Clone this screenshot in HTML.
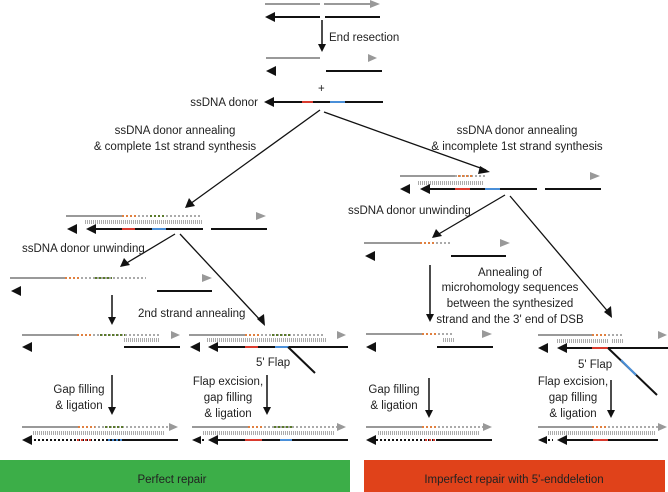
<!DOCTYPE html>
<html><head><meta charset="utf-8"><style>
html,body{margin:0;padding:0;background:#fff;}
svg{display:block;}
text{font-family:"Liberation Sans",Arial,sans-serif;font-size:11.5px;fill:#222;}
</style></head><body>
<svg width="668" height="492" viewBox="0 0 668 492" xmlns="http://www.w3.org/2000/svg">
<g stroke-width="2" fill="none">
<line x1="265" y1="4" x2="320" y2="4" stroke="#999"/>
<line x1="324" y1="4" x2="372" y2="4" stroke="#999"/>
<line x1="270" y1="17" x2="320" y2="17" stroke="#111"/>
<line x1="325" y1="17" x2="380" y2="17" stroke="#111"/>
<line x1="322" y1="20" x2="322" y2="46" stroke="#111" stroke-width="1.5"/>
<line x1="266" y1="58" x2="320" y2="58" stroke="#999"/>
<line x1="326" y1="71" x2="382" y2="71" stroke="#111"/>
<line x1="270" y1="102" x2="383" y2="102" stroke="#111"/>
<line x1="302" y1="102" x2="313" y2="102" stroke="#d83a2e"/>
<line x1="330" y1="102" x2="345" y2="102" stroke="#4a8fd8"/>
<line x1="320" y1="110" x2="190" y2="204" stroke="#111" stroke-width="1.3"/>
<line x1="324" y1="112" x2="486" y2="170" stroke="#111" stroke-width="1.3"/>
<line x1="66" y1="216" x2="122" y2="216" stroke="#999"/>
<line x1="122" y1="216" x2="200" y2="216" stroke="#aaa" stroke-dasharray="2,2"/>
<line x1="122" y1="216" x2="138" y2="216" stroke="#e08040" stroke-dasharray="2,2"/>
<line x1="150" y1="216" x2="165" y2="216" stroke="#5a7a2a" stroke-dasharray="2,2"/>
<line x1="85" y1="222" x2="203" y2="222" stroke="#aaa" stroke-width="4" stroke-dasharray="1,1"/>
<line x1="92" y1="229" x2="203" y2="229" stroke="#111"/>
<line x1="122" y1="229" x2="135" y2="229" stroke="#d83a2e"/>
<line x1="152" y1="229" x2="166" y2="229" stroke="#4a8fd8"/>
<line x1="211" y1="229" x2="267" y2="229" stroke="#111"/>
<line x1="175" y1="234" x2="125" y2="264" stroke="#111" stroke-width="1.3"/>
<line x1="180" y1="234" x2="262" y2="322" stroke="#111" stroke-width="1.3"/>
<line x1="10" y1="278" x2="65" y2="278" stroke="#999"/>
<line x1="65" y1="278" x2="146" y2="278" stroke="#aaa" stroke-dasharray="2,2"/>
<line x1="65" y1="278" x2="80" y2="278" stroke="#e08040" stroke-dasharray="2,2"/>
<line x1="95" y1="278" x2="112" y2="278" stroke="#5a7a2a" stroke-dasharray="2,2"/>
<line x1="157" y1="291" x2="212" y2="291" stroke="#111"/>
<line x1="112" y1="295" x2="112" y2="319" stroke="#111" stroke-width="1.5"/>
<line x1="22" y1="335" x2="77" y2="335" stroke="#999"/>
<line x1="77" y1="335" x2="160" y2="335" stroke="#aaa" stroke-dasharray="2,2"/>
<line x1="77" y1="335" x2="92" y2="335" stroke="#e08040" stroke-dasharray="2,2"/>
<line x1="100" y1="335" x2="125" y2="335" stroke="#5a7a2a" stroke-dasharray="2,2"/>
<line x1="124" y1="340" x2="160" y2="340" stroke="#aaa" stroke-width="4" stroke-dasharray="1,1"/>
<line x1="124" y1="347" x2="180" y2="347" stroke="#111"/>
<line x1="189" y1="335" x2="245" y2="335" stroke="#999"/>
<line x1="245" y1="335" x2="325" y2="335" stroke="#aaa" stroke-dasharray="2,2"/>
<line x1="245" y1="335" x2="260" y2="335" stroke="#e08040" stroke-dasharray="2,2"/>
<line x1="272" y1="335" x2="290" y2="335" stroke="#5a7a2a" stroke-dasharray="2,2"/>
<line x1="207" y1="340" x2="327" y2="340" stroke="#aaa" stroke-width="4" stroke-dasharray="1,1"/>
<line x1="214" y1="347" x2="348" y2="347" stroke="#111"/>
<line x1="245" y1="347" x2="258" y2="347" stroke="#d83a2e"/>
<line x1="275" y1="347" x2="289" y2="347" stroke="#4a8fd8"/>
<line x1="288" y1="347" x2="315" y2="373" stroke="#111"/>
<line x1="112" y1="375" x2="112" y2="409" stroke="#111" stroke-width="1.5"/>
<line x1="267" y1="375" x2="267" y2="409" stroke="#111" stroke-width="1.5"/>
<line x1="22" y1="427" x2="78" y2="427" stroke="#999"/>
<line x1="78" y1="427" x2="170" y2="427" stroke="#aaa" stroke-dasharray="2,2"/>
<line x1="78" y1="427" x2="95" y2="427" stroke="#e08040" stroke-dasharray="2,2"/>
<line x1="105" y1="427" x2="125" y2="427" stroke="#5a7a2a" stroke-dasharray="2,2"/>
<line x1="33" y1="433" x2="165" y2="433" stroke="#aaa" stroke-width="4" stroke-dasharray="1,1"/>
<line x1="30" y1="440" x2="122" y2="440" stroke="#111" stroke-dasharray="2,2"/>
<line x1="77" y1="440" x2="92" y2="440" stroke="#d83a2e" stroke-dasharray="2,2"/>
<line x1="108" y1="440" x2="122" y2="440" stroke="#4a8fd8" stroke-dasharray="2,2"/>
<line x1="122" y1="440" x2="178" y2="440" stroke="#111"/>
<line x1="192" y1="427" x2="248" y2="427" stroke="#999"/>
<line x1="248" y1="427" x2="338" y2="427" stroke="#aaa" stroke-dasharray="2,2"/>
<line x1="248" y1="427" x2="262" y2="427" stroke="#e08040" stroke-dasharray="2,2"/>
<line x1="274" y1="427" x2="292" y2="427" stroke="#5a7a2a" stroke-dasharray="2,2"/>
<line x1="203" y1="433" x2="334" y2="433" stroke="#aaa" stroke-width="4" stroke-dasharray="1,1"/>
<line x1="198" y1="440" x2="206" y2="440" stroke="#111" stroke-dasharray="2,2"/>
<line x1="214" y1="440" x2="348" y2="440" stroke="#111"/>
<line x1="245" y1="440" x2="262" y2="440" stroke="#d83a2e"/>
<line x1="280" y1="440" x2="292" y2="440" stroke="#4a8fd8"/>
<line x1="400" y1="176" x2="455" y2="176" stroke="#999"/>
<line x1="455" y1="176" x2="485" y2="176" stroke="#aaa" stroke-dasharray="2,2"/>
<line x1="458" y1="176" x2="472" y2="176" stroke="#e08040" stroke-dasharray="2,2"/>
<line x1="418" y1="183" x2="484" y2="183" stroke="#aaa" stroke-width="4" stroke-dasharray="1,1"/>
<line x1="424" y1="189" x2="537" y2="189" stroke="#111"/>
<line x1="455" y1="189" x2="470" y2="189" stroke="#d83a2e"/>
<line x1="485" y1="189" x2="500" y2="189" stroke="#4a8fd8"/>
<line x1="545" y1="189" x2="601" y2="189" stroke="#111"/>
<line x1="505" y1="195" x2="437" y2="235" stroke="#111" stroke-width="1.3"/>
<line x1="510" y1="196" x2="610" y2="314" stroke="#111" stroke-width="1.3"/>
<line x1="364" y1="243" x2="420" y2="243" stroke="#999"/>
<line x1="420" y1="243" x2="450" y2="243" stroke="#aaa" stroke-dasharray="2,2"/>
<line x1="420" y1="243" x2="434" y2="243" stroke="#e08040" stroke-dasharray="2,2"/>
<line x1="451" y1="256" x2="506" y2="256" stroke="#111"/>
<line x1="430" y1="265" x2="430" y2="316" stroke="#111" stroke-width="1.5"/>
<line x1="366" y1="334" x2="422" y2="334" stroke="#999"/>
<line x1="422" y1="334" x2="452" y2="334" stroke="#aaa" stroke-dasharray="2,2"/>
<line x1="422" y1="334" x2="436" y2="334" stroke="#e08040" stroke-dasharray="2,2"/>
<line x1="443" y1="340" x2="454" y2="340" stroke="#aaa" stroke-width="4" stroke-dasharray="1,1"/>
<line x1="437" y1="347" x2="493" y2="347" stroke="#111"/>
<line x1="538" y1="335" x2="592" y2="335" stroke="#999"/>
<line x1="592" y1="335" x2="623" y2="335" stroke="#aaa" stroke-dasharray="2,2"/>
<line x1="592" y1="335" x2="608" y2="335" stroke="#e08040" stroke-dasharray="2,2"/>
<line x1="557" y1="341" x2="608" y2="341" stroke="#aaa" stroke-width="4" stroke-dasharray="1,1"/>
<line x1="612" y1="341" x2="623" y2="341" stroke="#aaa" stroke-width="4" stroke-dasharray="1,1"/>
<line x1="563" y1="348" x2="668" y2="348" stroke="#111"/>
<line x1="592" y1="348" x2="608" y2="348" stroke="#d83a2e"/>
<line x1="608" y1="348" x2="657" y2="395" stroke="#111"/>
<line x1="621" y1="360" x2="636" y2="375" stroke="#4a8fd8"/>
<line x1="429" y1="378" x2="429" y2="412" stroke="#111" stroke-width="1.5"/>
<line x1="611" y1="380" x2="611" y2="412" stroke="#111" stroke-width="1.5"/>
<line x1="366" y1="427" x2="422" y2="427" stroke="#999"/>
<line x1="422" y1="427" x2="484" y2="427" stroke="#aaa" stroke-dasharray="2,2"/>
<line x1="422" y1="427" x2="437" y2="427" stroke="#e08040" stroke-dasharray="2,2"/>
<line x1="378" y1="433" x2="480" y2="433" stroke="#aaa" stroke-width="4" stroke-dasharray="1,1"/>
<line x1="372" y1="440" x2="437" y2="440" stroke="#111" stroke-dasharray="2,2"/>
<line x1="425" y1="440" x2="437" y2="440" stroke="#d83a2e" stroke-dasharray="2,2"/>
<line x1="437" y1="440" x2="492" y2="440" stroke="#111"/>
<line x1="538" y1="427" x2="592" y2="427" stroke="#999"/>
<line x1="592" y1="427" x2="660" y2="427" stroke="#aaa" stroke-dasharray="2,2"/>
<line x1="592" y1="427" x2="608" y2="427" stroke="#e08040" stroke-dasharray="2,2"/>
<line x1="548" y1="433" x2="655" y2="433" stroke="#aaa" stroke-width="4" stroke-dasharray="1,1"/>
<line x1="544" y1="440" x2="553" y2="440" stroke="#111" stroke-dasharray="2,2"/>
<line x1="563" y1="440" x2="658" y2="440" stroke="#111"/>
<line x1="593" y1="440" x2="608" y2="440" stroke="#d83a2e"/>
</g>
<g fill="#111">
<polygon points="265,17 275,12 275,22"/>
<polygon points="266,71 276,66 276,76"/>
<polygon points="264,102 274,97 274,107"/>
<polygon points="322,52 318,44 326,44"/>
<polygon points="185,208 189,198 195,206"/>
<polygon points="490,172 480,166 478,174"/>
<polygon points="67,229 77,224 77,234"/>
<polygon points="86,229 96,224 96,234"/>
<polygon points="120,267 124,258 130,265"/>
<polygon points="265,326 257,319 264,314"/>
<polygon points="11,291 21,286 21,296"/>
<polygon points="112,325 108,317 116,317"/>
<polygon points="22,347 32,342 32,352"/>
<polygon points="190,347 200,342 200,352"/>
<polygon points="208,347 218,342 218,352"/>
<polygon points="112,415 108,407 116,407"/>
<polygon points="267,415 263,407 271,407"/>
<polygon points="22,440 32,435 32,445"/>
<polygon points="192,440 201,436 201,444"/>
<polygon points="208,440 218,435 218,445"/>
<polygon points="400,189 410,184 410,194"/>
<polygon points="420,189 430,184 430,194"/>
<polygon points="432,238 436,229 442,236"/>
<polygon points="612,318 604,312 611,306"/>
<polygon points="365,256 375,251 375,261"/>
<polygon points="430,322 426,314 434,314"/>
<polygon points="366,347 376,342 376,352"/>
<polygon points="538,348 548,343 548,353"/>
<polygon points="557,348 567,343 567,353"/>
<polygon points="429,418 425,410 433,410"/>
<polygon points="611,418 607,410 615,410"/>
<polygon points="366,440 376,435 376,445"/>
<polygon points="538,440 547,436 547,444"/>
<polygon points="557,440 567,435 567,445"/>
</g>
<g fill="#999">
<polygon points="380,4 370,0 370,8"/>
<polygon points="377,58 368,54 368,62"/>
<polygon points="266,216 256,212 256,220"/>
<polygon points="212,278 202,274 202,282"/>
<polygon points="180,335 171,331 171,339"/>
<polygon points="346,335 337,331 337,339"/>
<polygon points="178,427 169,423 169,431"/>
<polygon points="346,427 337,423 337,431"/>
<polygon points="600,176 590,172 590,180"/>
<polygon points="510,243 500,239 500,247"/>
<polygon points="492,334 482,330 482,338"/>
<polygon points="667,335 658,331 658,339"/>
<polygon points="492,427 483,423 483,431"/>
<polygon points="667,427 658,423 658,431"/>
</g>
<text x="329" y="41">End resection</text>
<text x="318" y="92" font-size="9">+</text>
<text x="258" y="106" text-anchor="end">ssDNA donor</text>
<text x="175" y="134" text-anchor="middle">ssDNA donor annealing</text>
<text x="175" y="150" text-anchor="middle">&amp; complete 1st strand synthesis</text>
<text x="517" y="134" text-anchor="middle">ssDNA donor annealing</text>
<text x="517" y="150" text-anchor="middle">&amp; incomplete 1st strand synthesis</text>
<text x="22" y="252">ssDNA donor unwinding</text>
<text x="348" y="214">ssDNA donor unwinding</text>
<text x="138" y="317">2nd strand annealing</text>
<text x="256" y="366">5' Flap</text>
<text x="578" y="368">5' Flap</text>
<text x="79" y="393" text-anchor="middle">Gap filling</text>
<text x="79" y="409" text-anchor="middle">&amp; ligation</text>
<text x="228" y="385" text-anchor="middle">Flap excision,</text>
<text x="228" y="401" text-anchor="middle">gap filling</text>
<text x="228" y="417" text-anchor="middle">&amp; ligation</text>
<text x="394" y="393" text-anchor="middle">Gap filling</text>
<text x="394" y="409" text-anchor="middle">&amp; ligation</text>
<text x="573" y="385" text-anchor="middle">Flap excision,</text>
<text x="573" y="401" text-anchor="middle">gap filling</text>
<text x="573" y="417" text-anchor="middle">&amp; ligation</text>
<text x="510" y="276" text-anchor="middle">Annealing of</text>
<text x="510" y="291" text-anchor="middle">microhomology sequences</text>
<text x="510" y="307" text-anchor="middle">between the synthesized</text>
<text x="510" y="323" text-anchor="middle">strand and the 3' end of DSB</text>
<rect x="0" y="460" width="350" height="32" fill="#3cae48"/>
<rect x="364" y="460" width="301" height="32" fill="#e0421a"/>
<text x="172" y="483" text-anchor="middle">Perfect repair</text>
<text x="514" y="483" text-anchor="middle">Imperfect repair with 5'-enddeletion</text>
</svg>
</body></html>
